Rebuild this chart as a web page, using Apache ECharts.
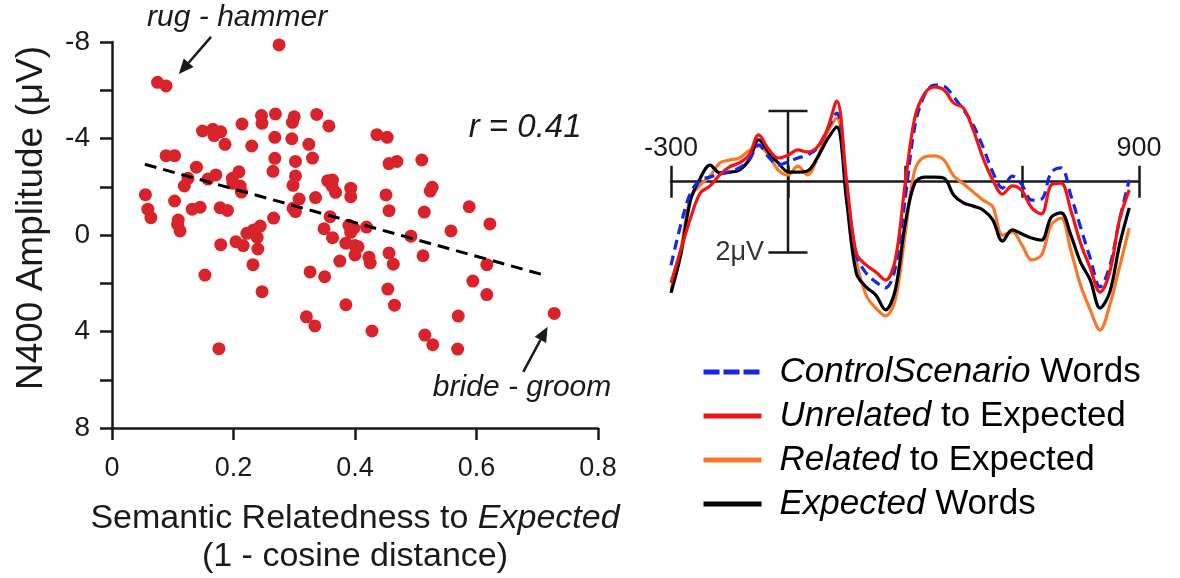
<!DOCTYPE html>
<html><head><meta charset="utf-8">
<script src="https://cdn.jsdelivr.net/npm/echarts@6/dist/echarts.min.js"></script>
<style>html,body{margin:0;padding:0;background:#fff}#c{width:1180px;height:578px}</style>
</head><body><div id="c"></div>
<script>
const FONT = "'Liberation Sans', Arial, Helvetica, sans-serif";
const INK = '#1a1a1a';

// ---- Scatter panel data ----
const scatterX = [0.275,0.075,0.089,0.246,0.269,0.247,0.214,0.149,0.166,0.179,
0.168,0.186,0.230,0.268,0.089,0.103,0.268,0.139,0.265,0.209,
0.171,0.158,0.125,0.198,0.119,0.199,0.211,0.213,0.055,0.103,
0.059,0.064,0.132,0.145,0.178,0.190,0.109,0.108,0.112,0.266,
0.244,0.233,0.222,0.239,0.179,0.204,0.216,0.240,0.232,
0.300,0.297,0.337,0.357,0.436,0.453,0.296,0.324,0.302,0.330,
0.456,0.469,0.510,0.302,0.298,0.355,0.363,0.362,0.368,0.393,
0.393,0.451,0.527,0.524,0.308,0.335,0.298,0.302,0.456,0.514,
0.359,0.349,0.390,0.398,0.393,0.419,0.492,0.558,0.363,0.385,
0.400,0.405,0.400,0.423,0.425,0.456,0.512,0.375,0.463,0.326,
0.588,0.622,
0.617,0.594,0.617,0.570,0.728,0.454,0.465,0.385,0.428,0.515,0.528,0.569,
0.153,0.247,0.350,0.320,0.334,0.176];
const scatterY = [-7.88,-6.33,-6.18,-4.95,-5.02,-4.63,-4.60,-4.31,-4.38,-4.28,
-4.12,-3.76,-3.69,-4.05,-3.29,-3.29,-3.18,-2.81,-2.64,-2.62,
-2.49,-2.32,-2.35,-2.35,-2.03,-2.14,-2.03,-1.78,-1.67,-1.41,
-1.07,-0.72,-1.07,-1.15,-1.13,-1.02,-0.62,-0.44,-0.17,-0.70,
-0.37,-0.21,-0.07,0.10,0.40,0.28,0.44,0.58,1.23,
-4.90,-4.67,-5.00,-4.52,-4.16,-4.05,-3.99,-3.76,-3.05,-3.19,
-2.96,-3.05,-3.11,-2.45,-2.06,-2.25,-2.28,-2.04,-1.77,-1.94,
-1.59,-1.66,-1.98,-1.82,-1.49,-1.55,-1.11,-0.97,-1.01,-0.95,
-0.76,-0.26,-0.40,-0.28,-0.11,-0.33,0.05,-0.17,0.11,0.34,
0.44,0.49,0.83,0.92,1.16,0.75,0.86,1.08,1.21,1.53,
-1.17,-0.46,
1.23,1.91,2.47,3.36,3.25,2.24,2.91,2.89,3.98,4.15,4.55,4.73,
1.66,2.35,1.73,3.39,3.77,4.71];
const fitX = [0.054, 0.717];
const fitY = [-2.93, 1.70];
const corrText = 'r = 0.41';
// annotation anchors in data units: [text, textX, textY, arrowFromX, arrowFromY, arrowToX, arrowToY]
const annRug = ['rug - hammer', 0.206, -9.0, 0.163, -8.21, 0.110, -6.67];
const annBride = ['bride - groom', 0.675, 6.34, 0.677, 5.67, 0.717, 3.80];
const corrPos = [0.680, -4.44];

// ---- ERP panel data ----
const erpTimes = [-300,-275,-250,-225,-200,-175,-150,-125,-100,-75,
-50,-25,0,25,50,75,100,125,150,175,
200,225,250,275,300,325,350,375,400,425,
450,475,500,525,550,575,600,625,650,675,
700,725,750,775,800,825,850,875];
const controlWave = [2.36,1.22,0.32,-0.05,-0.13,-0.22,-0.27,-0.39,-0.61,-1.04,
-0.70,-0.47,-0.56,-0.67,-0.75,-0.95,-1.46,-1.94,0.09,2.07,
2.58,2.83,3.00,2.44,0.52,-1.55,-2.45,-2.73,-2.70,-2.39,
-2.03,-1.60,-0.98,-0.27,0.18,-0.16,0.09,0.52,0.49,-0.27,
-0.39,0.38,1.28,2.16,2.97,2.38,1.08,-0.05];
const unrelatedWave = [2.86,1.93,1.03,0.32,0.12,-0.19,-0.42,-0.53,-0.75,-1.32,
-0.92,-0.67,-0.75,-0.90,-0.84,-0.98,-1.46,-2.28,-0.05,2.02,
2.35,2.55,2.78,2.21,0.09,-1.80,-2.48,-2.68,-2.59,-2.22,
-2.08,-1.46,-0.67,-0.05,0.35,0.12,0.26,0.74,0.91,0.09,
0.04,0.80,1.73,2.44,3.12,2.55,1.08,0.23];
const relatedWave = [3.06,1.93,0.46,0.09,-0.16,-0.53,-0.61,-0.67,-0.87,-1.01,
-0.75,-0.33,-0.19,-0.44,-0.19,-0.67,-1.37,-1.80,0.23,2.21,
3.20,3.57,3.79,3.34,1.51,-0.33,-0.70,-0.73,-0.61,-0.16,
0.06,0.29,0.52,0.71,1.51,1.42,1.79,2.21,2.07,1.22,
1.03,1.93,2.92,3.62,4.19,3.49,2.41,1.31];
const expectedWave = [3.14,2.07,0.52,-0.10,-0.47,-0.25,-0.27,-0.33,-0.61,-1.18,
-0.84,-0.53,-0.28,-0.27,-0.30,-0.67,-1.18,-1.55,0.52,2.58,
2.97,3.20,3.62,3.06,1.22,0.04,-0.13,-0.13,-0.10,0.38,
0.60,0.69,0.80,1.08,1.68,1.36,1.48,1.59,1.65,1.00,
0.88,1.50,2.27,2.78,3.57,3.12,1.79,0.74];
const erpLabelledTicks = [-300, 900];
const scaleBarUV = 2;
const scaleBarHalfWidth = 50;
const scaleBarLabel = '2μV';

const seriesNames = ['ControlScenario Words','Unrelated to Expected','Related to Expected','Expected Words'];
const legendRich = {
  'ControlScenario Words': '{i|ControlScenario} Words',
  'Unrelated to Expected': '{i|Unrelated} to Expected',
  'Related to Expected': '{i|Related} to Expected',
  'Expected Words': '{i|Expected} Words'
};

const zip = (xs, ys) => xs.map((x, i) => [x, ys[i]]);

const chart = echarts.init(document.getElementById('c'));

function erpSeries(name, values, color, dashed, z) {
  return {
    name, type: 'line', xAxisIndex: 1, yAxisIndex: 1, clip: false,
    data: zip(erpTimes, values), symbol: 'none', smooth: 0.35,
    lineStyle: { color, width: 3.2, type: dashed ? [10, 6] : 'solid' },
    itemStyle: { color }, z, silent: true
  };
}

chart.setOption({
  animation: false,
  backgroundColor: '#fff',
  textStyle: { fontFamily: FONT },
  grid: [
    { left: 112, top: 42, width: 486, height: 386, containLabel: false, outerBoundsMode: 'none' },
    // ERP grid: top edge is the 0 µV line; negative values (plotted up) lie above it
    { left: 671, top: 181.7, width: 468, height: 177, containLabel: false, outerBoundsMode: 'none' }
  ],
  xAxis: [
    {
      gridIndex: 0, type: 'value', min: 0, max: 0.8, interval: 0.2,
      axisLine: { show: true, onZero: false, lineStyle: { color: INK, width: 2.5 } },
      axisTick: { show: true, inside: false, length: 12, lineStyle: { color: INK, width: 2.5 } },
      axisLabel: { fontSize: 27, color: INK, margin: 27, fontFamily: FONT },
      splitLine: { show: false },
      name: '{a|Semantic Relatedness to }{b|Expected}\n{a|(1 - cosine distance)}',
      nameLocation: 'middle', nameGap: 72,
      nameTextStyle: {
        fontSize: 34, color: INK, fontFamily: FONT, lineHeight: 38,
        rich: {
          a: { fontSize: 34, color: INK, fontFamily: FONT, lineHeight: 38 },
          b: { fontSize: 34, color: INK, fontFamily: FONT, fontStyle: 'italic', lineHeight: 38 }
        }
      }
    },
    {
      gridIndex: 1, type: 'value', min: -300, max: 900, interval: 300, position: 'top',
      axisLine: { show: true, onZero: false, lineStyle: { color: INK, width: 2.5 } },
      axisTick: { show: true, inside: false, length: 16, lineStyle: { color: INK, width: 2.5 } },
      axisLabel: {
        show: true, fontSize: 27, color: INK, margin: 20, fontFamily: FONT,
        showMinLabel: true, showMaxLabel: true,
        formatter: v => erpLabelledTicks.indexOf(v) >= 0 ? String(v) : ''
      },
      splitLine: { show: false }
    },
    {
      gridIndex: 1, type: 'value', min: -300, max: 900, interval: 300, position: 'top',
      axisLine: { show: false, onZero: false },
      axisTick: { show: true, inside: true, length: 16, lineStyle: { color: INK, width: 2.5 } },
      axisLabel: { show: false },
      splitLine: { show: false }
    }
  ],
  yAxis: [
    {
      gridIndex: 0, type: 'value', inverse: true, min: -8, max: 8, interval: 2,
      axisLine: { show: true, onZero: false, lineStyle: { color: INK, width: 2.5 } },
      axisTick: { show: true, inside: false, length: 12, lineStyle: { color: INK, width: 2.5 } },
      axisLabel: { fontSize: 28, color: INK, margin: 22, fontFamily: FONT,
        formatter: v => (v % 4 === 0 ? String(v) : '') },
      splitLine: { show: false },
      name: 'N400 Amplitude (μV)', nameLocation: 'middle', nameGap: 62,
      nameTextStyle: { fontSize: 37, color: INK, fontFamily: FONT, padding: [0, 0, 0, 34] }
    },
    {
      gridIndex: 1, type: 'value', inverse: true, min: 0, max: 5, show: false
    }
  ],
  legend: {
    orient: 'vertical', left: 701, top: 352, padding: 0,
    itemWidth: 58, itemHeight: 20, itemGap: 4,
    selectedMode: false,
    data: [
      { name: seriesNames[0], lineStyle: { width: 5, type: [16, 4] } },
      { name: seriesNames[1], lineStyle: { width: 5 } },
      { name: seriesNames[2], lineStyle: { width: 5 } },
      { name: seriesNames[3], lineStyle: { width: 5 } }
    ],
    formatter: name => legendRich[name],
    lineStyle: { width: 5 },
    itemStyle: { opacity: 0, borderWidth: 0 },
    textStyle: {
      fontSize: 35, color: '#000', fontFamily: FONT, lineHeight: 40, padding: [0, 0, 0, 13],
      rich: { i: { fontSize: 35, color: '#000', fontFamily: FONT, fontStyle: 'italic', lineHeight: 40 } }
    }
  },
  series: [
    {
      type: 'scatter', xAxisIndex: 0, yAxisIndex: 0,
      data: zip(scatterX, scatterY), symbolSize: 13,
      itemStyle: { color: '#d9232b', opacity: 1 }, silent: true, z: 3
    },
    {
      type: 'line', xAxisIndex: 0, yAxisIndex: 0,
      data: zip(fitX, fitY), symbol: 'none',
      lineStyle: { color: '#000', width: 3, type: [12, 7] }, silent: true, z: 4
    },
    erpSeries(seriesNames[2], relatedWave, '#f7782a', false, 5),
    erpSeries(seriesNames[3], expectedWave, '#000000', false, 6),
    erpSeries(seriesNames[0], controlWave, '#1525ee', true, 7),
    erpSeries(seriesNames[1], unrelatedWave, '#f01414', false, 8),
    {
      type: 'line', xAxisIndex: 1, yAxisIndex: 1, symbol: 'none', silent: true, z: 4, clip: false,
      data: [[-scaleBarHalfWidth, -scaleBarUV], [scaleBarHalfWidth, -scaleBarUV], [0, -scaleBarUV],
             [0, scaleBarUV], [-scaleBarHalfWidth, scaleBarUV], [scaleBarHalfWidth, scaleBarUV]],
      lineStyle: { color: INK, width: 2.5 }
    },
    {
      type: 'scatter', xAxisIndex: 1, yAxisIndex: 1, silent: true, clip: false,
      data: [[-scaleBarHalfWidth, scaleBarUV]], symbolSize: 1, itemStyle: { color: INK },
      label: { show: true, position: 'left', distance: 4, formatter: scaleBarLabel,
        fontSize: 27, color: '#000', fontFamily: FONT }
    }
  ]
});

function toPx(x, y) { return chart.convertToPixel({ gridIndex: 0 }, [x, y]); }
function arrow(fx, fy, tx, ty) {
  const a = toPx(fx, fy), b = toPx(tx, ty);
  const dx = b[0] - a[0], dy = b[1] - a[1];
  const len = Math.sqrt(dx * dx + dy * dy);
  const ux = dx / len, uy = dy / len;
  const hl = 15, hw = 6.5;
  const bx = b[0] - ux * hl, by = b[1] - uy * hl;
  return [
    { type: 'line', shape: { x1: a[0], y1: a[1], x2: bx, y2: by }, style: { stroke: INK, lineWidth: 2.5 } },
    { type: 'polygon', shape: { points: [[b[0], b[1]], [bx - uy * hw, by + ux * hw], [bx + uy * hw, by - ux * hw]] },
      style: { fill: INK } }
  ];
}
function label(text, x, y, size) {
  const p = toPx(x, y);
  return { type: 'text', x: p[0], y: p[1],
    style: { text, fill: INK, fontSize: size, fontStyle: 'italic', fontFamily: FONT,
      align: 'center', verticalAlign: 'middle', textAlign: 'center', textVerticalAlign: 'middle' } };
}
const g = [];
g.push(label(annRug[0], annRug[1], annRug[2], 30));
g.push(...arrow(annRug[3], annRug[4], annRug[5], annRug[6]));
g.push(label(annBride[0], annBride[1], annBride[2], 30));
g.push(...arrow(annBride[3], annBride[4], annBride[5], annBride[6]));
g.push(label(corrText, corrPos[0], corrPos[1], 33));
chart.setOption({ graphic: g });
</script>
</body></html>
